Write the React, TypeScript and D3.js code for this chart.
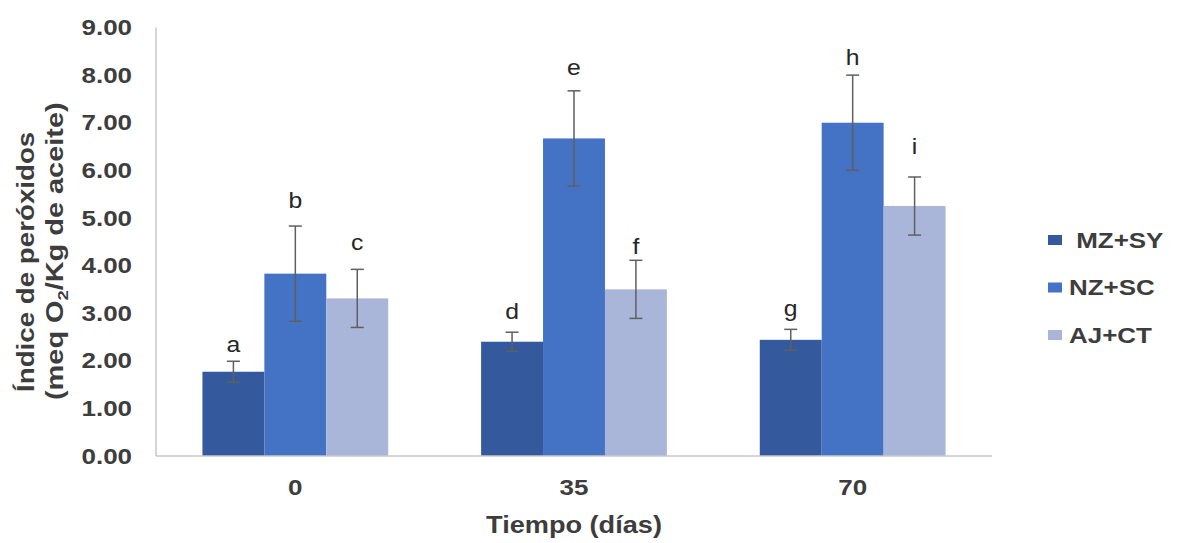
import React from 'react';
import * as d3 from 'd3';

// Tiempo (días) on the x axis, one group per sampling day
const categories = ['0', '35', '70'];
const seriesNames = ['MZ+SY', 'NZ+SC', 'AJ+CT'];
const seriesColors = ['#35599d', '#4472c4', '#a9b6da'];

// peroxide index per series, in the order of categories
const mzsyValues = [1.77, 2.4, 2.44];
const nzscValues = [3.83, 6.67, 7.0];
const ajctValues = [3.31, 3.5, 5.25];

// error bar half-lengths
const mzsyErrors = [0.22, 0.2, 0.22];
const nzscErrors = [1.0, 1.0, 1.0];
const ajctErrors = [0.61, 0.61, 0.61];

// significance letters and the height (in axis units) where they sit
const mzsyLetters = ['a', 'd', 'g'];
const nzscLetters = ['b', 'e', 'h'];
const ajctLetters = ['c', 'f', 'i'];
const mzsyLetterY = [2.18, 2.88, 2.94];
const nzscLetterY = [5.21, 8.0, 8.21];
const ajctLetterY = [4.33, 4.24, 6.34];

const yTicks = [0, 1, 2, 3, 4, 5, 6, 7, 8, 9];

const series = [
  { name: seriesNames[0], color: seriesColors[0], values: mzsyValues, errors: mzsyErrors, letters: mzsyLetters, letterY: mzsyLetterY },
  { name: seriesNames[1], color: seriesColors[1], values: nzscValues, errors: nzscErrors, letters: nzscLetters, letterY: nzscLetterY },
  { name: seriesNames[2], color: seriesColors[2], values: ajctValues, errors: ajctErrors, letters: ajctLetters, letterY: ajctLetterY },
];

const W = 1178;
const H = 543;
const FONT = '"Liberation Sans", Arial, sans-serif';
const TEXT = '#3d3d3d';
const SX = 1.18; // glyphs in the source are a bit wider than Arial

const App = () => {
  const margin = { left: 156, right: 186, top: 27.5, bottom: 87 };
  const x0 = d3.scaleBand().domain(categories).range([margin.left, W - margin.right])
    .paddingInner(1 / 3).paddingOuter(1 / 6);
  const x1 = d3.scaleBand().domain(seriesNames).range([0, x0.bandwidth()]);
  const y = d3.scaleLinear().domain([0, 9]).range([H - margin.bottom, margin.top]);
  const fmt = d3.format('.2f');
  const baseY = y(0);

  return (
    <div style={{ position: 'absolute', left: 0, top: 0 }}>
      <svg width={W} height={H} style={{ display: 'block', background: '#fff' }} fontFamily={FONT}>
        {/* bars */}
        {series.map(s => (
          <g key={s.name}>
            {categories.map((c, i) => (
              <rect key={c}
                x={x0(c) + x1(s.name)}
                y={y(s.values[i])}
                width={x1.bandwidth()}
                height={baseY - y(s.values[i])}
                fill={s.color} />
            ))}
          </g>
        ))}

        {/* axes */}
        <line x1={margin.left} x2={margin.left} y1={y(9)} y2={baseY} stroke="#c8c8c8" strokeWidth={1.5} />
        <line x1={margin.left} x2={W - margin.right} y1={baseY} y2={baseY} stroke="#c8c8c8" strokeWidth={1.5} />

        {/* error bars and letters */}
        {series.map(s => (
          <g key={s.name + '-err'}>
            {categories.map((c, i) => {
              const cx = x0(c) + x1(s.name) + x1.bandwidth() / 2;
              const hi = y(s.values[i] + s.errors[i]);
              const lo = y(s.values[i] - s.errors[i]);
              return (
                <g key={c}>
                  <line x1={cx} x2={cx} y1={hi} y2={lo} stroke="#5f5f5f" strokeWidth={1.5} />
                  <line x1={cx - 6.5} x2={cx + 6.5} y1={hi} y2={hi} stroke="#5f5f5f" strokeWidth={1.5} />
                  <line x1={cx - 6.5} x2={cx + 6.5} y1={lo} y2={lo} stroke="#5f5f5f" strokeWidth={1.5} />
                  <text transform={`translate(${cx},${y(s.letterY[i])}) scale(1.1,1)`}
                    textAnchor="middle" fontSize={22.5} fill="#262626">{s.letters[i]}</text>
                </g>
              );
            })}
          </g>
        ))}

        {/* y ticks */}
        {yTicks.map(t => (
          <text key={t} transform={`translate(132,${y(t)}) scale(${SX},1)`} dy="0.35em"
            textAnchor="end" fontSize={22} fontWeight="bold" fill={TEXT}>{fmt(t)}</text>
        ))}

        {/* x ticks */}
        {categories.map(c => (
          <text key={c} transform={`translate(${x0(c) + x0.bandwidth() / 2},495) scale(${SX},1)`}
            textAnchor="middle" fontSize={22} fontWeight="bold" fill={TEXT}>{c}</text>
        ))}

        {/* axis titles */}
        <text transform={`translate(${(margin.left + W - margin.right) / 2},533) scale(${SX},1)`}
          textAnchor="middle" fontSize={23} fontWeight="bold" fill={TEXT}>Tiempo (días)</text>
        <text transform={`translate(34,392) rotate(-90) scale(${SX},1)`}
          textAnchor="start" fontSize={23.5} fontWeight="bold" fill={TEXT}>Índice de peróxidos</text>
        <text transform={`translate(63,400) rotate(-90) scale(${SX},1)`}
          textAnchor="start" fontSize={24.5} fontWeight="bold" fill={TEXT}>
          (meq O<tspan fontSize={15.5} dy={5}>2</tspan><tspan dy={-5}>/Kg de aceite)</tspan>
        </text>

        {/* legend */}
        {series.map((s, i) => (
          <g key={s.name + '-leg'} transform={`translate(1048,${240 + i * 47.5})`}>
            <rect x={0} y={-5} width={14} height={10} fill={s.color} />
            <text transform={`translate(21,0) scale(${SX},1)`} dy="0.35em" fontSize={22}
              fontWeight="bold" fill={TEXT} style={{ whiteSpace: 'pre' }}>{i === 0 ? ' ' + s.name : s.name}</text>
          </g>
        ))}
      </svg>
    </div>
  );
};

export default App;
